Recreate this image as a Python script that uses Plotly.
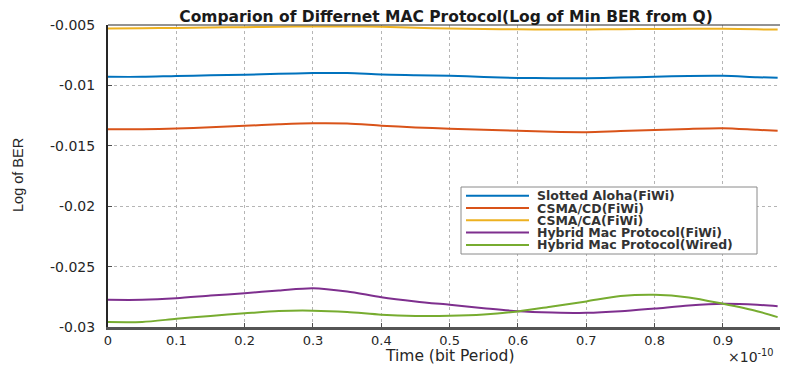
import plotly.graph_objects as go

time = [0, 0.05, 0.1, 0.15, 0.2, 0.25, 0.3, 0.35, 0.4, 0.45, 0.5,
        0.55, 0.6, 0.65, 0.7, 0.75, 0.8, 0.85, 0.9, 0.95, 0.98]

slotted_aloha = [-0.00929, -0.00929, -0.00922, -0.00917, -0.00912, -0.00904, -0.00898,
                 -0.00898, -0.00910, -0.00915, -0.00920, -0.00930, -0.00938, -0.00940,
                 -0.00940, -0.00935, -0.00928, -0.00922, -0.00921, -0.00932, -0.00937]
csma_cd = [-0.01362, -0.01362, -0.01357, -0.01347, -0.01335, -0.01322, -0.01313,
           -0.01315, -0.01333, -0.01348, -0.01358, -0.01367, -0.01376, -0.01384,
           -0.01387, -0.01378, -0.01370, -0.01360, -0.01355, -0.01368, -0.01375]
csma_ca = [-0.00528, -0.00527, -0.00524, -0.00521, -0.00518, -0.00514, -0.00512,
           -0.00512, -0.00514, -0.00522, -0.00530, -0.00533, -0.00536, -0.00537,
           -0.00537, -0.00535, -0.00533, -0.00532, -0.00532, -0.00536, -0.00538]
hybrid_fiwi = [-0.02775, -0.02775, -0.02762, -0.02740, -0.02720, -0.02698, -0.02679,
               -0.02706, -0.02753, -0.02788, -0.02816, -0.02844, -0.02869, -0.02880,
               -0.02883, -0.02870, -0.02847, -0.02822, -0.02808, -0.02816, -0.02828]
hybrid_wired = [-0.02959, -0.02958, -0.02932, -0.02908, -0.02887, -0.02868, -0.02865,
                -0.02876, -0.02898, -0.02908, -0.02907, -0.02896, -0.02871, -0.02830,
                -0.02788, -0.02744, -0.02733, -0.02755, -0.02808, -0.02869, -0.02918]

series_names = ["Slotted Aloha(FiWi)", "CSMA/CD(FiWi)", "CSMA/CA(FiWi)",
                "Hybrid Mac Protocol(FiWi)", "Hybrid Mac Protocol(Wired)"]
series_values = [slotted_aloha, csma_cd, csma_ca, hybrid_fiwi, hybrid_wired]
colors = ["#0072BD", "#D95319", "#EDB120", "#7E2F8E", "#77AC30"]

x_tickvals = [0, 0.1, 0.2, 0.3, 0.4, 0.5, 0.6, 0.7, 0.8, 0.9, 1]
x_ticktext = ["0", "0.1", "0.2", "0.3", "0.4", "0.5", "0.6", "0.7", "0.8", "0.9", "1"]
y_tickvals = [-0.03, -0.025, -0.02, -0.015, -0.01, -0.005]
y_ticktext = ["-0.03", "-0.025", "-0.02", "-0.015", "-0.01", "-0.005"]

# page has an 8px body margin: lay the figure out so screen pixels match
OFF = 8
W, H = 788 - OFF, 365 - OFF
ML, MR, MT, MB = 108 - OFF, 0, 25 - OFF, 38
PW = W - ML - MR
PH = H - MT - MB

fig = go.Figure()
for name, vals, col in zip(series_names, series_values, colors):
    fig.add_trace(go.Scatter(x=time, y=vals, name=name, mode="lines",
                             line=dict(color=col, width=2, shape="spline", smoothing=0.8),
                             showlegend=False))

def px_x(p):
    return (p - OFF - ML) / PW

def px_y(p):
    return 1 - (p - OFF - MT) / PH

shapes = []
annotations = []
# legend box
lx0, lx1, ly0, ly1 = 461, 757, 187, 254
shapes.append(dict(type="rect", xref="paper", yref="paper",
                   x0=px_x(lx0), x1=px_x(lx1), y0=px_y(ly1), y1=px_y(ly0),
                   line=dict(color="#8a8a8a", width=1), fillcolor="white", layer="above"))
for i, (name, col) in enumerate(zip(series_names, colors)):
    yy = 195.7 + i * 12.3
    shapes.append(dict(type="line", xref="paper", yref="paper",
                       x0=px_x(466), x1=px_x(529), y0=px_y(yy), y1=px_y(yy),
                       line=dict(color=col, width=2), layer="above"))
    annotations.append(dict(text="<b>" + name + "</b>", xref="paper", yref="paper",
                            x=px_x(535), y=px_y(yy),
                            xanchor="left", yanchor="middle", showarrow=False,
                            font=dict(family="DejaVu Sans", size=12.5, color="#333333")))
# top border
shapes.append(dict(type="line", xref="paper", yref="paper", x0=0, x1=1, y0=1, y1=1,
                   line=dict(color="#262626", width=1)))

annotations.append(dict(text="Log of BER", xref="paper", yref="paper", x=px_x(18), y=px_y(175),
                        xanchor="center", yanchor="middle", textangle=-90, showarrow=False,
                        font=dict(family="Liberation Sans", size=14.5, color="#262626")))
annotations.append(dict(text="Time (bit Period)", xref="paper", yref="paper", x=px_x(449), y=px_y(356),
                        xanchor="center", yanchor="middle", showarrow=False,
                        font=dict(family="DejaVu Sans", size=15.5, color="#262626")))
annotations.append(dict(text="×10<sup>-10</sup>", xref="paper", yref="paper", x=px_x(726), y=px_y(356),
                        xanchor="left", yanchor="middle", showarrow=False,
                        font=dict(family="DejaVu Sans", size=14, color="#262626")))

fig.update_layout(
    width=W, height=H,
    margin=dict(l=ML, r=MR, t=MT, b=MB, pad=0),
    paper_bgcolor="white", plot_bgcolor="white",
    title=dict(text="<b>Comparion of Differnet MAC Protocol(Log of Min BER from Q)</b>",
               x=(446 - OFF) / W, xanchor="center", y=1 - (17 - OFF) / H, yanchor="middle",
               font=dict(family="DejaVu Sans", size=15.5, color="#1a1a1a")),
    shapes=shapes, annotations=annotations,
    xaxis=dict(range=[0, PW / 683.3], tickvals=x_tickvals, ticktext=x_ticktext,
               showgrid=True, gridcolor="#b5b5b5", griddash="dot", gridwidth=1,
               zeroline=False, showline=True, linecolor="#555555", linewidth=2.5,
               ticks="inside", ticklen=4, tickcolor="#4d4d4d", automargin=False,
               tickfont=dict(family="DejaVu Sans", size=13, color="#262626")),
    yaxis=dict(range=[-0.03, -0.005], tickvals=y_tickvals, ticktext=y_ticktext,
               showgrid=True, gridcolor="#b5b5b5", griddash="dot", gridwidth=1,
               zeroline=False, showline=True, linecolor="#262626", linewidth=2,
               ticks="inside", ticklen=4, tickcolor="#4d4d4d", ticklabelstandoff=8,
               automargin=False,
               tickfont=dict(family="DejaVu Sans", size=14, color="#262626")),
)

fig.write_html("out.html")
